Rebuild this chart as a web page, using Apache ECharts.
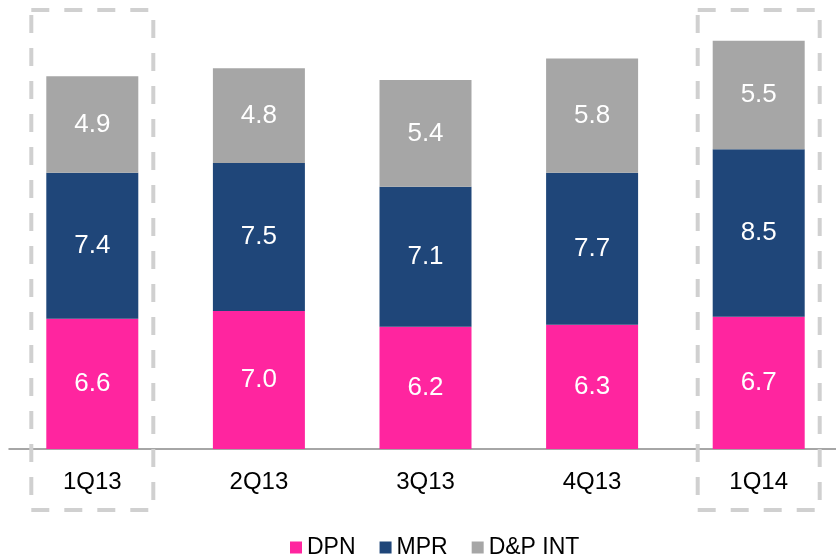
<!DOCTYPE html>
<html>
<head>
<meta charset="utf-8">
<script src="https://cdn.jsdelivr.net/npm/echarts@6/dist/echarts.min.js"></script>
<style>
  html, body { margin: 0; padding: 0; background: #fff; }
  #chart { width: 836px; height: 555px; }
</style>
</head>
<body>
<div id="chart"></div>
<script>
// quarters + stacked values
const quarters = ['1Q13', '2Q13', '3Q13', '4Q13', '1Q14']
const dpn = [6.6, 7.0, 6.2, 6.3, 6.7]
const mpr = [7.4, 7.5, 7.1, 7.7, 8.5]
const dpInt = [4.9, 4.8, 5.4, 5.8, 5.5]
// quarters that get the dashed highlight box
const highlighted = ['1Q13', '1Q14']

const chart = echarts.init(document.getElementById('chart'))

const labelStyle = {
  show: true,
  position: 'inside',
  color: '#fff',
  fontSize: 26,
  fontFamily: 'Liberation Sans, Arial, sans-serif',
  formatter: p => p.value.toFixed(1)
}

const mkSeries = (name, data, color) => ({
  name: name,
  type: 'bar',
  stack: 'total',
  barWidth: 92,
  data: data,
  itemStyle: { color: color },
  label: labelStyle,
  emphasis: { disabled: true }
})

const option = {
  animation: false,
  grid: { left: 9, width: 833, top: 15, bottom: 106, outerBoundsMode: 'none', containLabel: false },
  legend: {
    left: 285,
    top: 531,
    itemWidth: 12,
    itemHeight: 12,
    itemGap: 24,
    icon: 'rect',
    textStyle: {
      fontSize: 23,
      color: '#000',
      fontFamily: 'Liberation Sans, Arial, sans-serif'
    },
    data: ['DPN', 'MPR', 'D&P INT']
  },
  xAxis: {
    type: 'category',
    data: quarters,
    axisLine: { lineStyle: { color: '#898989', width: 1.5 } },
    axisTick: { show: false },
    axisLabel: {
      color: '#000',
      fontSize: 24,
      margin: 21,
      fontFamily: 'Liberation Sans, Arial, sans-serif'
    }
  },
  yAxis: {
    type: 'value',
    min: 0,
    max: 22,
    show: false,
    splitLine: { show: false }
  },
  series: [
    mkSeries('DPN', dpn, '#FF259F'),
    mkSeries('MPR', mpr, '#1F4679'),
    mkSeries('D&P INT', dpInt, '#A6A6A6')
  ]
}

chart.setOption(option)

// dashed boxes around the highlighted quarters
const boxes = highlighted.map(q => {
  const cx = chart.convertToPixel({ xAxisIndex: 0 }, q)
  return {
    type: 'rect',
    shape: { x: cx - 61, y: 10, width: 122, height: 500 },
    style: {
      fill: 'none',
      stroke: '#D0D0D0',
      lineWidth: 4,
      lineDash: [18, 15]
    },
    silent: true,
    z: 10
  }
})
chart.setOption({ graphic: boxes })
</script>
</body>
</html>
